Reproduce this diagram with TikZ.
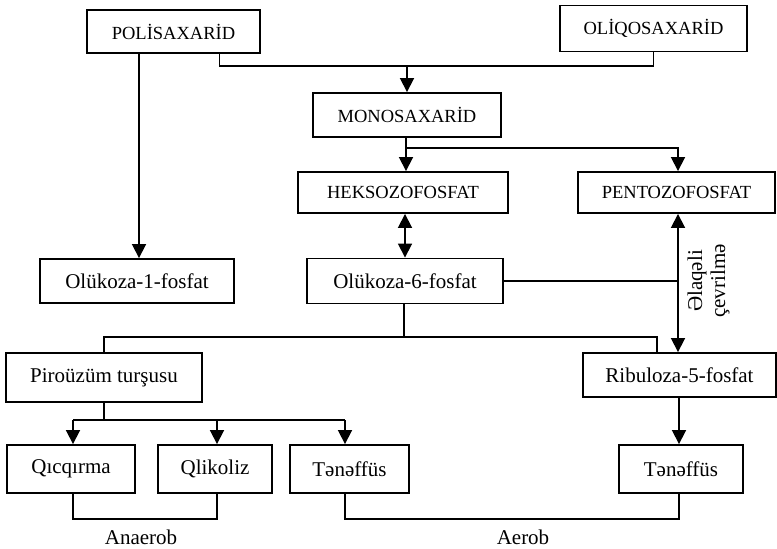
\documentclass[tikz,border=0pt]{standalone}
\usepackage{fontspec}
\setmainfont{Liberation Serif}
\usetikzlibrary{arrows.meta}
\begin{document}
\begin{tikzpicture}[x=1pt,y=1pt]
\tikzset{
  box/.style={draw, line width=1.9pt, inner sep=0pt, anchor=center},
  capt/.style={font=\fontsize{18.5}{22}\selectfont},
  txt/.style={font=\fontsize{21}{23}\selectfont},
  conn/.style={line width=1.8pt},
  arr/.style={line width=1.8pt, -{Triangle[width=14pt,length=14pt]}},
  arrtwo/.style={line width=1.8pt, {Triangle[width=14pt,length=14pt]}-{Triangle[width=14pt,length=14pt]}}
}
\useasboundingbox (0,0) rectangle (777,-549);

% boxes
\node[box, capt, minimum width=173pt, minimum height=43pt] (poli) at (173.5,-31.5) {POLİSAXARİD};
\node[box, capt, minimum width=187pt, minimum height=46pt] (oliq) at (653.5,-28.5) {OLİQOSAXARİD};
\node[box, capt, minimum width=188pt, minimum height=44pt] (mono) at (407,-115) {MONOSAXARİD};
\node[box, capt, minimum width=210pt, minimum height=41pt] (heks) at (403,-192.5) {HEKSOZOFOSFAT};
\node[box, capt, minimum width=197pt, minimum height=41pt] (pent) at (676.5,-192.5) {PENTOZOFOSFAT};
\node[box, txt, minimum width=194pt, minimum height=44pt] (g1) at (137,-281) {Olükoza-1-fosfat};
\node[box, txt, minimum width=196pt, minimum height=45pt] (g6) at (405,-281) {Olükoza-6-fosfat};
\node[box, txt, minimum width=196pt, minimum height=49pt] (pir) at (104,-377.5) {Piroüzüm turşusu};
\node[box, txt, minimum width=193pt, minimum height=44pt] (rib) at (679.5,-375) {Ribuloza-5-fosfat};
\node[box, txt, minimum width=128pt, minimum height=48pt] (qic) at (71,-469) {Qıcqırma};
\node[box, txt, minimum width=114pt, minimum height=48pt] (qli) at (215,-469) {Qlikoliz};
\node[box, txt, minimum width=119pt, minimum height=48pt] (ten1) at (349.5,-469) {Tənəffüs};
\node[box, txt, minimum width=124pt, minimum height=48pt] (ten2) at (681,-469) {Tənəffüs};

% labels
\node[txt, inner sep=0pt] (an) at (141,-537.5) {Anaerob};
\node[txt, inner sep=0pt] (ae) at (523,-537.5) {Aerob};
\node[txt, rotate=90, align=center, inner sep=0pt] (lbl) at (708.5,-281) {Əlaqəli\\çevrilmə};

% helper coordinates
\coordinate (jA) at (219.5,-66);
\coordinate (xB) at (139,0);
\coordinate (jC) at (406,-148);
\coordinate (xD) at (678,0);
\coordinate (xE) at (405,0);
\coordinate (jF) at (404,-337);
\coordinate (xG) at (657,0);
\coordinate (jH) at (104,-420);
\coordinate (xq) at (73,0);
\coordinate (xl) at (217,0);
\coordinate (xt) at (345,0);
\coordinate (xr) at (679,0);
\coordinate (yb) at (0,-519);

% connectors
\draw[conn] (jA |- poli.south) -- (jA) -- (jA -| oliq.south) -- (oliq.south);
\draw[arr] (mono.north |- jA) -- (mono.north);
\draw[arr] (xB |- poli.south) -- (xB |- g1.north);
\draw[arr] (jC |- mono.south) -- (jC |- heks.north);
\draw[arr] (jC) -- (jC -| xD) -- (xD |- pent.north);
\draw[arrtwo] (xE |- heks.south) -- (xE |- g6.north);
\draw[arrtwo] (xD |- pent.south) -- (xD |- rib.north);
\draw[conn] (g6.east) -- (g6.east -| xD);
\draw[conn] (jF |- g6.south) -- (jF);
\draw[conn] (pir.north) -- (pir.north |- jF) -- (xG |- jF) -- (xG |- rib.north);
\draw[conn] (pir.south) -- (jH);
\draw[conn] (xq |- jH) -- (xt |- jH);
\draw[arr] (xq |- jH) -- (xq |- qic.north);
\draw[arr] (xl |- jH) -- (xl |- qli.north);
\draw[arr] (xt |- jH) -- (xt |- ten1.north);
\draw[arr] (xr |- rib.south) -- (xr |- ten2.north);
\draw[conn] (xq |- qic.south) -- (xq |- yb) -- (xl |- yb) -- (xl |- qli.south);
\draw[conn] (xt |- ten1.south) -- (xt |- yb) -- (xr |- yb) -- (xr |- ten2.south);
\end{tikzpicture}
\end{document}
